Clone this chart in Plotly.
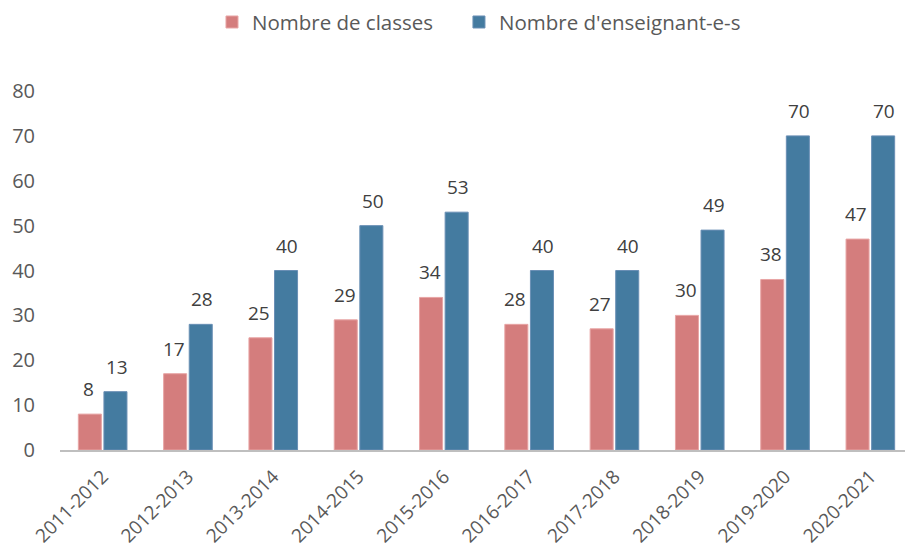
import plotly.graph_objects as go

categories = ["2011-2012", "2012-2013", "2013-2014", "2014-2015", "2015-2016",
              "2016-2017", "2017-2018", "2018-2019", "2019-2020", "2020-2021"]
classes = [8, 17, 25, 29, 34, 28, 27, 30, 38, 47]
enseignants = [13, 28, 40, 50, 53, 40, 40, 49, 70, 70]
y_ticks = [0, 10, 20, 30, 40, 50, 60, 70, 80]

FONT = "Open Sans"
fig = go.Figure()
fig.add_trace(go.Bar(
    x=categories, y=classes, name="Nombre de classes",
    marker=dict(color="#D47D7D", line=dict(color="#E8A5A5", width=1)),
    offsetgroup="a", legend="legend", showlegend=True,
))
fig.add_trace(go.Bar(
    x=categories, y=enseignants, name="Nombre d'enseignant-e-s",
    marker=dict(color="#447BA0", line=dict(color="#6A8FB5", width=1)),
    offsetgroup="b", legend="legend2", showlegend=True,
))

annotations = []
for i, c in enumerate(categories):
    annotations.append(dict(x=i, y=classes[i], xref="x", yref="y", text=str(classes[i]),
                            showarrow=False, xshift=-14, yshift=25,
                            font=dict(family=FONT, size=19, color="#404040")))
    annotations.append(dict(x=i, y=enseignants[i], xref="x", yref="y", text=str(enseignants[i]),
                            showarrow=False, xshift=14, yshift=25,
                            font=dict(family=FONT, size=19, color="#404040")))

legend_common = dict(orientation="h", yref="container", y=0.974, yanchor="middle",
                     xref="container", xanchor="left", visible=True,
                     font=dict(family=FONT, size=20.5, color="#595959"), itemwidth=30)

fig.update_layout(
    width=905, height=545,
    margin=dict(l=52, r=0, t=83, b=103),
    plot_bgcolor="white", paper_bgcolor="white",
    showlegend=True,
    barmode="group", bargap=0.4, bargroupgap=0.1,
    font=dict(family=FONT, size=18, color="#595959"),
    legend=dict(x=0.2254, **legend_common),
    legend2=dict(x=0.4983, **legend_common),
    annotations=annotations,
    xaxis=dict(type="category", tickangle=-45, showgrid=False, showline=True,
               linecolor="#BFBFBF", linewidth=2, ticks="", automargin=False,
               ticklabelstandoff=6,
               tickfont=dict(family=FONT, size=19, color="#595959")),
    yaxis=dict(range=[0, 80], tickvals=y_ticks, showgrid=False, zeroline=False,
               showline=False, ticks="", ticklabelstandoff=24, automargin=False,
               tickfont=dict(family=FONT, size=20, color="#595959")),
)

fig.write_html("out.html")
